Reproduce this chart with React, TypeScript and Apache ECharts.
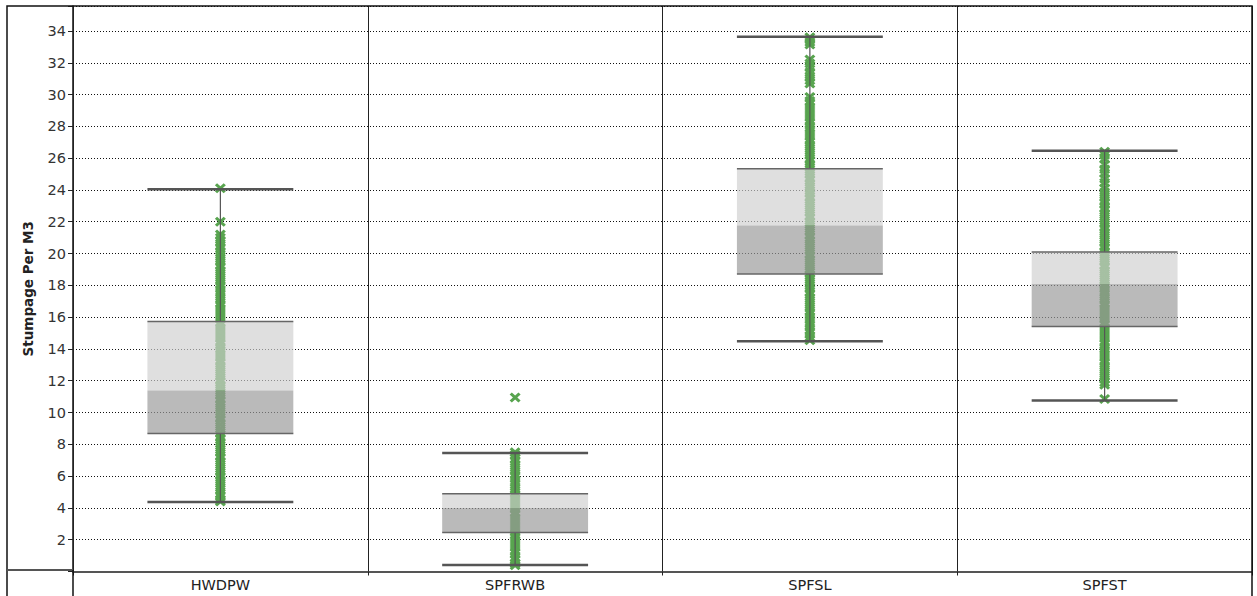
import React, { useEffect, useRef } from "react";
import * as echarts from "echarts";

const categories = ["HWDPW", "SPFRWB", "SPFSL", "SPFST"];
const yTitle = "Stumpage Per M3";

// box statistics per category
const whiskerMin = [4.37, 0.41, 14.49, 10.76];
const quartile1 = [8.68, 2.46, 18.72, 15.41];
const medians = [11.39, 3.99, 21.76, 18.08];
const quartile3 = [15.73, 4.89, 25.34, 20.09];
const whiskerMax = [24.04, 7.45, 33.64, 26.46];

// individual observations (read from the strips)
const hwdpwPoints = [24.1, 22.0, 21.2, 21.0, 20.75, 20.5, 20.3, 20.05, 19.8, 19.55, 19.3, 19.1, 18.85, 18.6, 18.35, 18.1, 17.9, 17.65, 17.4, 17.15, 16.9, 16.7, 16.45, 16.2, 15.95, 15.7, 15.5, 15.25, 15.0, 14.75, 14.5, 14.3, 14.05, 13.8, 13.55, 13.3, 13.1, 12.85, 12.6, 12.35, 12.1, 11.9, 11.65, 11.4, 11.15, 10.9, 10.7, 10.45, 10.2, 9.95, 9.7, 9.5, 9.25, 9.0, 8.75, 8.5, 8.3, 8.05, 7.8, 7.55, 7.3, 7.1, 6.85, 6.6, 6.35, 6.1, 5.9, 5.65, 5.4, 5.15, 4.9, 4.7, 4.5, 4.4];
const spfrwbPoints = [10.95, 7.5, 7.35, 7.1, 6.9, 6.65, 6.4, 6.15, 5.95, 5.7, 5.45, 5.2, 4.95, 4.75, 4.5, 4.25, 4.0, 3.75, 3.55, 3.3, 3.05, 2.8, 2.55, 2.35, 2.1, 1.85, 1.6, 1.35, 1.15, 0.9, 0.7, 0.5, 0.4];
const spfslPoints = [33.6, 33.45, 33.3, 33.15, 32.2, 31.95, 31.7, 31.4, 31.15, 30.9, 30.7, 29.85, 29.6, 29.4, 29.15, 28.9, 28.65, 28.4, 28.2, 27.95, 27.7, 27.45, 27.2, 27.0, 26.75, 26.5, 26.25, 26.0, 25.8, 25.55, 25.3, 25.05, 24.8, 24.6, 24.35, 24.1, 23.85, 23.6, 23.4, 23.15, 22.9, 22.65, 22.4, 22.2, 21.95, 21.7, 21.45, 21.2, 21.0, 20.75, 20.5, 20.25, 20.0, 19.8, 19.55, 19.3, 19.05, 18.8, 18.6, 18.35, 18.1, 17.85, 17.6, 17.4, 17.15, 16.9, 16.65, 16.4, 16.2, 15.95, 15.7, 15.45, 15.2, 15.0, 14.75, 14.55];
const spfstPoints = [26.4, 26.2, 25.95, 25.6, 25.3, 25.05, 24.7, 24.45, 24.1, 23.85, 23.6, 23.35, 23.15, 22.9, 22.7, 22.45, 22.2, 21.95, 21.7, 21.5, 21.25, 21.0, 20.75, 20.5, 20.3, 20.05, 19.8, 19.55, 19.3, 19.1, 18.85, 18.6, 18.35, 18.1, 17.9, 17.65, 17.4, 17.15, 16.9, 16.7, 16.45, 16.2, 15.95, 15.7, 15.5, 15.25, 15.0, 14.75, 14.5, 14.3, 14.05, 13.8, 13.55, 13.3, 13.1, 12.85, 12.6, 12.35, 12.1, 11.9, 11.75, 10.85];
const pointsByCategory = [hwdpwPoints, spfrwbPoints, spfslPoints, spfstPoints];

const yTickLabels = [2, 4, 6, 8, 10, 12, 14, 16, 18, 20, 22, 24, 26, 28, 30, 32, 34];

const FONT = "DejaVu Sans";
const X_MARK = "path://M2,0L5,3L8,0L10,2L7,5L10,8L8,10L5,7L2,10L0,8L3,5L0,2Z";

export default function App() {
  const ref = useRef<HTMLDivElement>(null);

  useEffect(() => {
    if (!ref.current) return;
    const chart = echarts.init(ref.current, undefined, { renderer: "svg" });

    const boxData = categories.map((_, i) => [
      i,
      whiskerMin[i],
      quartile1[i],
      medians[i],
      quartile3[i],
      whiskerMax[i],
    ]);
    const scatterData: number[][] = [];
    pointsByCategory.forEach((pts, i) => pts.forEach((v) => scatterData.push([i, v])));

    const option: any = {
      animation: false,
      backgroundColor: "#ffffff",
      textStyle: { fontFamily: FONT },
      grid: { left: 73, top: 6, right: 5, bottom: 24.5, containLabel: false },
      xAxis: {
        type: "category",
        data: categories,
        boundaryGap: true,
        axisLine: { show: true, lineStyle: { color: "#555555", width: 2 } },
        axisTick: { show: true, length: 4, lineStyle: { color: "#222222", width: 1 } },
        axisLabel: { color: "#222222", fontSize: 14.5, margin: 6, fontFamily: FONT },
        splitLine: { show: true, lineStyle: { color: "#222222", width: 1, type: "solid" } },
        z: 1,
      },
      yAxis: {
        type: "value",
        min: 0,
        max: 35.57,
        interval: 2,
        name: yTitle,
        nameLocation: "middle",
        nameGap: 38,
        nameRotate: 90,
        nameTextStyle: { color: "#222222", fontSize: 13.5, fontWeight: "bold", fontFamily: FONT },
        axisLine: { show: true, lineStyle: { color: "#111111", width: 1.5 } },
        axisTick: {
          show: true,
          length: 5,
          lineStyle: { color: "#222222", width: 1 },
        },
        axisLabel: {
          color: "#333333",
          fontSize: 14.5,
          margin: 7,
          fontFamily: FONT,
          formatter: (v: number) => (yTickLabels.indexOf(v) >= 0 ? String(v) : ""),
        },
        splitLine: {
          show: true,
          lineStyle: { color: "#111111", width: 1, type: [1, 2] },
        },
      },
      graphic: [
        {
          type: "rect",
          shape: { x: 7, y: 6, width: 1245, height: 620 },
          style: { fill: "none", stroke: "#111111", lineWidth: 1.5 },
          z: 100,
          silent: true,
        },
        {
          type: "line",
          shape: { x1: 7, y1: 570, x2: 73, y2: 570 },
          style: { stroke: "#555555", lineWidth: 2 },
          z: 100,
          silent: true,
        },
        {
          type: "line",
          shape: { x1: 73, y1: 570, x2: 73, y2: 600 },
          style: { stroke: "#111111", lineWidth: 1.5 },
          z: 100,
          silent: true,
        },
      ],
      series: [
        {
          type: "scatter",
          data: scatterData,
          symbol: X_MARK,
          symbolSize: [11, 10],
          itemStyle: { color: "#58a44f", opacity: 1 },
          z: 2,
        },
        {
          type: "custom",
          data: boxData,
          z: 3,
          renderItem: (params: any, api: any) => {
            const idx = api.value(0);
            const mn = api.coord([idx, api.value(1)]);
            const q1 = api.coord([idx, api.value(2)]);
            const md = api.coord([idx, api.value(3)]);
            const q3 = api.coord([idx, api.value(4)]);
            const mx = api.coord([idx, api.value(5)]);
            const band = api.size([1, 0])[0];
            const half = band * 0.2475;
            const cx = mn[0];
            return {
              type: "group",
              children: [
                {
                  type: "line",
                  shape: { x1: cx, y1: mx[1], x2: cx, y2: q3[1] },
                  style: { stroke: "#555555", lineWidth: 1.2 },
                },
                {
                  type: "line",
                  shape: { x1: cx, y1: q1[1], x2: cx, y2: mn[1] },
                  style: { stroke: "#555555", lineWidth: 1.2 },
                },
                {
                  type: "rect",
                  shape: { x: cx - half, y: q3[1], width: half * 2, height: md[1] - q3[1] },
                  style: { fill: "rgba(207,207,207,0.66)" },
                },
                {
                  type: "rect",
                  shape: { x: cx - half, y: md[1], width: half * 2, height: q1[1] - md[1] },
                  style: { fill: "rgba(154,154,154,0.68)" },
                },
                {
                  type: "line",
                  shape: { x1: cx - half, y1: q3[1], x2: cx + half, y2: q3[1] },
                  style: { stroke: "#666666", lineWidth: 1.5 },
                },
                {
                  type: "line",
                  shape: { x1: cx - half, y1: q1[1], x2: cx + half, y2: q1[1] },
                  style: { stroke: "#666666", lineWidth: 1.5 },
                },
                {
                  type: "line",
                  shape: { x1: cx - half, y1: mx[1], x2: cx + half, y2: mx[1] },
                  style: { stroke: "#555555", lineWidth: 2.5 },
                },
                {
                  type: "line",
                  shape: { x1: cx - half, y1: mn[1], x2: cx + half, y2: mn[1] },
                  style: { stroke: "#555555", lineWidth: 2.5 },
                },
              ],
            };
          },
        },
      ],
    };

    chart.setOption(option);
    return () => chart.dispose();
  }, []);

  return (
    <div
      ref={ref}
      style={{ position: "absolute", left: 0, top: 0, width: 1257, height: 596 }}
    />
  );
}
